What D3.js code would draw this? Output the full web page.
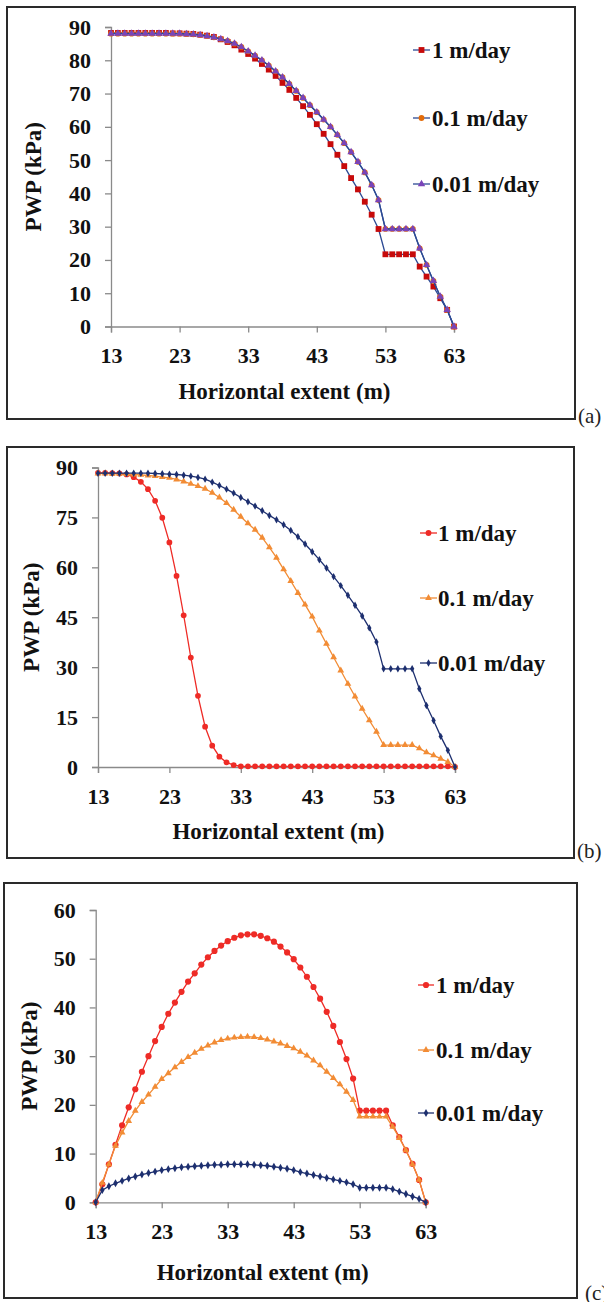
<!DOCTYPE html>
<html>
<head>
<meta charset="utf-8">
<script src="https://cdn.jsdelivr.net/npm/d3@7"></script>
<style>
  body { margin: 0; background: #fff; }
  svg { display: block; }
  svg text { font-family: "Liberation Serif", "Tinos", "Times New Roman", Times, "DejaVu Serif", serif !important; }
</style>
</head>
<body>
<svg id="chart" width="604" height="1302"></svg>
<script>
// Horizontal extent (m), one reading every metre.
const xMeters = [13, 14, 15, 16, 17, 18, 19, 20, 21, 22,
                 23, 24, 25, 26, 27, 28, 29, 30, 31, 32,
                 33, 34, 35, 36, 37, 38, 39, 40, 41, 42,
                 43, 44, 45, 46, 47, 48, 49, 50, 51, 52,
                 53, 54, 55, 56, 57, 58, 59, 60, 61, 62, 63];

const seriesNames = ["1 m/day", "0.1 m/day", "0.01 m/day"];
const xTicks = [13, 23, 33, 43, 53, 63];

// Panel (a) PWP (kPa)
const pwpA1 = [88.2, 88.2, 88.2, 88.2, 88.2, 88.2, 88.2, 88.2, 88.2, 88.1,
               88.1, 88.0, 87.9, 87.7, 87.4, 87.0, 86.3, 85.5, 84.5, 83.2,
               81.9, 80.5, 78.9, 77.2, 75.3, 73.2, 71.1, 68.7, 66.2, 63.6,
               60.8, 57.9, 54.8, 51.6, 48.2, 44.6, 41.2, 37.5, 33.6, 29.3,
               21.7, 21.7, 21.7, 21.7, 21.7, 18.0, 15.0, 12.0, 8.5, 5.0, 0];
const pwpA01 = [88.0, 88.0, 88.0, 88.0, 88.0, 88.0, 88.0, 88.0, 88.0, 88.0,
                88.0, 87.9, 87.8, 87.6, 87.3, 86.9, 86.4, 85.8, 85.0, 84.0,
                82.7, 81.4, 80.0, 78.4, 76.7, 74.9, 72.9, 70.8, 68.7, 66.5,
                64.4, 62.2, 60.0, 57.6, 55.1, 52.4, 49.5, 46.3, 42.5, 38.0,
                29.3, 29.3, 29.3, 29.3, 29.3, 23.5, 18.5, 13.7, 9.0, 5.0, 0];
const pwpA001 = [88.0, 88.0, 88.0, 88.0, 88.0, 88.0, 88.0, 88.0, 88.0, 88.0,
                 88.0, 87.9, 87.8, 87.6, 87.3, 86.9, 86.4, 85.8, 85.0, 84.0,
                 82.7, 81.4, 80.0, 78.4, 76.7, 74.9, 72.9, 70.8, 68.7, 66.5,
                 64.4, 62.2, 60.0, 57.6, 55.1, 52.4, 49.5, 46.3, 42.5, 38.0,
                 29.3, 29.3, 29.3, 29.3, 29.3, 23.5, 18.5, 13.7, 9.0, 5.0, 0];
const yTicksA = [0, 10, 20, 30, 40, 50, 60, 70, 80, 90];

// Panel (b)
const pwpB1 = [88.4, 88.4, 88.3, 88.2, 87.9, 87.1, 85.7, 83.5, 80.0, 74.9,
               67.5, 57.4, 45.6, 32.9, 21.4, 12.1, 6.4, 3.1, 1.4, 0.6,
               0.2, 0.2, 0.2, 0.2, 0.2, 0.2, 0.2, 0.2, 0.2, 0.2,
               0.2, 0.2, 0.2, 0.2, 0.2, 0.2, 0.2, 0.2, 0.2, 0.2,
               0.2, 0.2, 0.2, 0.2, 0.2, 0.2, 0.2, 0.2, 0.2, 0.2, 0];
const pwpB01 = [88.2, 88.2, 88.1, 88.1, 88.0, 87.9, 87.8, 87.6, 87.4, 87.1,
                86.9, 86.4, 85.8, 85.1, 84.4, 83.6, 82.4, 81.0, 79.3, 77.3,
                75.2, 73.2, 71.3, 68.9, 66.0, 62.9, 59.4, 55.9, 52.3, 48.8,
                45.2, 41.0, 37.0, 33.0, 29.0, 25.0, 21.2, 17.5, 14.0, 10.6,
                6.6, 6.6, 6.6, 6.6, 6.6, 5.6, 4.4, 3.5, 2.5, 1.5, 0];
const pwpB001 = [88.3, 88.3, 88.3, 88.3, 88.3, 88.3, 88.3, 88.3, 88.2, 88.1,
                 88.0, 87.9, 87.7, 87.4, 87.0, 86.5, 85.6, 84.6, 83.5, 82.3,
                 81.0, 79.7, 78.4, 77.0, 75.6, 74.3, 72.8, 71.1, 69.2, 67.0,
                 64.7, 62.3, 59.8, 57.2, 54.5, 51.6, 48.6, 45.4, 41.8, 37.6,
                 29.5, 29.5, 29.5, 29.5, 29.5, 23.5, 18.5, 14.0, 9.2, 5.0, 0];
const yTicksB = [0, 15, 30, 45, 60, 75, 90];

// Panel (c)
const pwpC1 = [0, 3.7, 7.8, 11.8, 15.8, 19.5, 23.2, 26.8, 30.0, 33.1,
               36.0, 38.7, 41.0, 43.2, 45.3, 47.0, 48.8, 50.3, 51.6, 52.7,
               53.6, 54.3, 54.8, 55.0, 55.0, 54.7, 54.2, 53.5, 52.5, 51.3,
               49.9, 48.2, 46.3, 44.2, 41.8, 39.1, 36.2, 32.9, 29.4, 25.4,
               18.8, 18.8, 18.8, 18.8, 18.8, 15.8, 13.4, 10.7, 7.9, 4.6, 0];
const pwpC01 = [0, 4.0, 7.8, 11.6, 14.3, 16.7, 18.8, 20.6, 22.1, 23.7,
                25.3, 26.5, 27.7, 28.8, 29.8, 30.7, 31.5, 32.2, 32.8, 33.3,
                33.6, 33.8, 33.9, 34.0, 33.9, 33.7, 33.4, 33.0, 32.6, 32.1,
                31.6, 30.9, 30.1, 29.1, 28.1, 26.8, 25.5, 24.2, 22.7, 21.0,
                17.6, 17.6, 17.6, 17.6, 17.6, 15.5, 13.2, 10.7, 7.8, 4.6, 0];
const pwpC001 = [0, 2.5, 3.3, 3.9, 4.4, 4.9, 5.3, 5.7, 6.0, 6.3,
                 6.6, 6.8, 7.0, 7.2, 7.3, 7.4, 7.5, 7.6, 7.7, 7.7,
                 7.8, 7.8, 7.8, 7.8, 7.7, 7.6, 7.5, 7.3, 7.1, 6.9,
                 6.6, 6.2, 5.9, 5.6, 5.3, 5.0, 4.7, 4.4, 4.1, 3.7,
                 3.0, 3.0, 3.0, 3.0, 3.0, 2.7, 2.2, 1.7, 1.2, 0.7, 0];
const yTicksC = [0, 10, 20, 30, 40, 50, 60];

// Colours
const navyA = "#2c4a94";
const red = "#ee2b26";
const orange = "#f28c35";
const navy = "#1d2f6f";

// Layout of the three panels.
const panels = [
  {
    tag: "(a)", tagX: 578, tagY: 416,
    frame: [7, 7, 575, 419],
    plot: { left: 111, right: 454, top: 27, bottom: 326.5 },
    yMax: 90, yTicks: yTicksA,
    yTitleX: 41, xTitleDy: 64,
    legend: { x0: 413, x1: 430, textX: 432, ys: [50, 118, 184] },
    series: [
      { values: pwpA1, line: navyA, fill: "#c70a0a", symbol: d3.symbolSquare, size: 34 },
      { values: pwpA01, line: navyA, fill: "#e36c0a", symbol: d3.symbolCircle, size: 26 },
      { values: pwpA001, line: navyA, fill: "#7a44b8", symbol: d3.symbolTriangle, size: 24 }
    ]
  },
  {
    tag: "(b)", tagX: 577, tagY: 851,
    frame: [7, 447, 574, 858],
    plot: { left: 98, right: 455, top: 467.5, bottom: 767 },
    yMax: 90, yTicks: yTicksB,
    yTitleX: 39, xTitleDy: 64,
    legend: { x0: 420, x1: 437, textX: 438, ys: [533, 598, 663] },
    series: [
      { values: pwpB1, line: red, fill: red, symbol: d3.symbolCircle, size: 26 },
      { values: pwpB01, line: orange, fill: orange, symbol: d3.symbolTriangle, size: 20 },
      { values: pwpB001, line: navy, fill: navy, symbol: d3.symbolDiamond, size: 16 }
    ]
  },
  {
    tag: "(c)", tagX: 585, tagY: 1293,
    frame: [4, 883, 577, 1298],
    plot: { left: 95.7, right: 425.7, top: 910, bottom: 1202.3 },
    yMax: 60, yTicks: yTicksC,
    yTitleX: 37, xTitleDy: 70,
    legend: { x0: 418, x1: 434, textX: 436, ys: [985, 1050, 1113] },
    series: [
      { values: pwpC1, line: red, fill: red, symbol: d3.symbolCircle, size: 30 },
      { values: pwpC01, line: orange, fill: orange, symbol: d3.symbolTriangle, size: 20 },
      { values: pwpC001, line: navy, fill: navy, symbol: d3.symbolDiamond, size: 18 }
    ]
  }
];

const svg = d3.select("#chart");
svg.append("rect").attr("width", 604).attr("height", 1302).attr("fill", "#fff");

panels.forEach(p => drawPanel(svg, p));

function drawPanel(svg, p) {
  const g = svg.append("g");

  // outer frame
  g.append("rect")
    .attr("x", p.frame[0]).attr("y", p.frame[1])
    .attr("width", p.frame[2] - p.frame[0])
    .attr("height", p.frame[3] - p.frame[1])
    .attr("fill", "none")
    .attr("stroke", "#2a2a2a")
    .attr("stroke-width", 2);

  const x = d3.scaleLinear().domain([13, 63]).range([p.plot.left, p.plot.right]);
  const y = d3.scaleLinear().domain([0, p.yMax]).range([p.plot.bottom, p.plot.top]);

  const yAxis = d3.axisLeft(y).tickValues(p.yTicks).tickSize(6).tickPadding(14).tickFormat(d3.format("d"));
  const xAxis = d3.axisBottom(x).tickValues(xTicks).tickSize(6).tickPadding(15).tickFormat(d3.format("d"));

  const gy = g.append("g").attr("transform", `translate(${p.plot.left},0)`).call(yAxis);
  const gx = g.append("g").attr("transform", `translate(0,${p.plot.bottom})`).call(xAxis);

  [gx, gy].forEach(ax => {
    ax.attr("font-family", null).attr("font-size", null);
    ax.select(".domain").attr("stroke", "#8a8a8a").attr("stroke-width", 1.3);
    ax.selectAll(".tick line").attr("stroke", "#8a8a8a").attr("stroke-width", 1.3);
    ax.selectAll(".tick text")
      .attr("fill", "#111")
      .attr("font-weight", "bold")
      .attr("font-size", 22);
  });

  // axis titles
  g.append("text")
    .attr("transform", `translate(${p.yTitleX},${(p.plot.top + p.plot.bottom) / 2}) rotate(-90)`)
    .attr("text-anchor", "middle")
    .attr("font-weight", "bold")
    .attr("font-size", 23)
    .attr("fill", "#111")
    .text("PWP (kPa)");

  g.append("text")
    .attr("x", (p.plot.left + p.plot.right) / 2 + 2)
    .attr("y", p.plot.bottom + p.xTitleDy)
    .attr("dy", "0.35em")
    .attr("text-anchor", "middle")
    .attr("font-weight", "bold")
    .attr("font-size", 23)
    .attr("fill", "#111")
    .text("Horizontal extent (m)");

  // series lines and markers
  const line = d3.line()
    .x((d, i) => x(xMeters[i]))
    .y(d => y(d));

  p.series.forEach(s => {
    g.append("path")
      .datum(s.values)
      .attr("d", line)
      .attr("fill", "none")
      .attr("stroke", s.line)
      .attr("stroke-width", 1.3);

    g.append("g")
      .selectAll("path")
      .data(s.values)
      .join("path")
      .attr("transform", (d, i) => `translate(${x(xMeters[i])},${y(d)})`)
      .attr("d", d3.symbol().type(s.symbol).size(s.size))
      .attr("fill", s.fill);
  });

  // legend
  p.series.forEach((s, i) => {
    const ly = p.legend.ys[i];
    g.append("line")
      .attr("x1", p.legend.x0).attr("x2", p.legend.x1)
      .attr("y1", ly).attr("y2", ly)
      .attr("stroke", s.line).attr("stroke-width", 1.3);
    g.append("path")
      .attr("transform", `translate(${(p.legend.x0 + p.legend.x1) / 2},${ly})`)
      .attr("d", d3.symbol().type(s.symbol).size(s.size))
      .attr("fill", s.fill);
    g.append("text")
      .attr("x", p.legend.textX)
      .attr("y", ly)
      .attr("dy", "0.35em")
      .attr("font-weight", "bold")
      .attr("font-size", 23)
      .attr("fill", "#111")
      .text(seriesNames[i]);
  });

  // panel tag
  g.append("text")
    .attr("x", p.tagX)
    .attr("y", p.tagY)
    .attr("dy", "0.35em")
    .attr("font-size", 21)
    .attr("fill", "#222")
    .text(p.tag);
}
</script>
</body>
</html>
